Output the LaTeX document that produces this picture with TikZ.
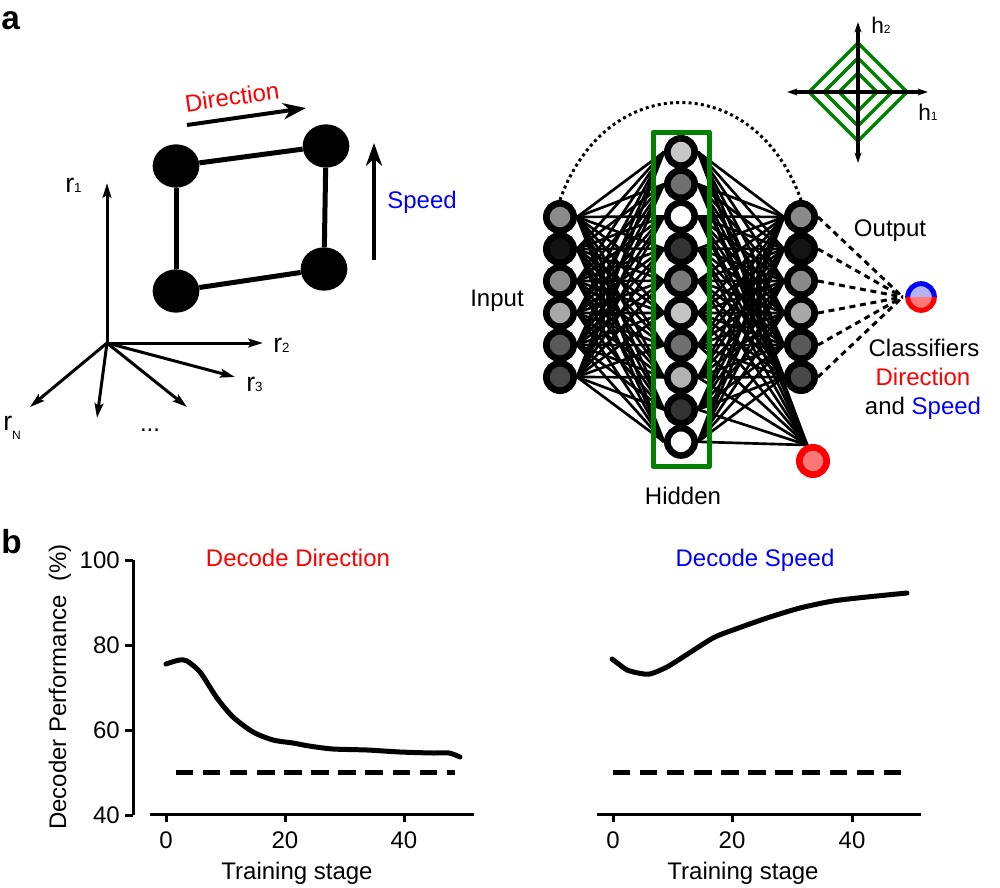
\documentclass[tikz,border=0pt]{standalone}
\usepackage{fontspec}
\setmainfont{Liberation Sans}
\usetikzlibrary{arrows.meta,shapes.geometric}
\definecolor{dgreen}{RGB}{0,128,0}
\definecolor{lblue}{RGB}{180,180,245}
\definecolor{lred}{RGB}{255,120,120}
\pgfdeclarelayer{bg}
\pgfsetlayers{bg,main}
\begin{document}
\begin{tikzpicture}[x=0.75pt,y=-0.75pt,
  every node/.style={font=\fontsize{18}{21}\selectfont, inner sep=0pt},
  neuron/.style={circle, draw=black, line width=5pt, minimum size=20.5pt, inner sep=0pt},
  conn/.style={line width=2pt},
  cdash/.style={line width=2.25pt, dash pattern=on 4.5pt off 3.5pt},
  cdot/.style={line width=2.25pt, dash pattern=on 2.25pt off 2.4pt},
  bigdot/.style={ellipse, fill=black, minimum width=35pt, minimum height=32.5pt, inner sep=0pt},
  edge/.style={line width=3.75pt},
  raxis/.style={line width=2.25pt, -{Stealth[length=11pt,width=6.5pt,inset=2pt]}},
  bigarrow/.style={line width=3pt, -{Stealth[length=17pt,width=12pt,inset=5pt]}},
  haxis/.style={line width=2.4pt, {Stealth[length=7.5pt,width=5pt,inset=1.5pt]}-{Stealth[length=7.5pt,width=5pt,inset=1.5pt]}},
  diam/.style={draw=dgreen, line width=2.4pt},
  axisline/.style={line width=2.25pt},
  curve/.style={line width=3.75pt, line cap=round, line join=round},
  chance/.style={line width=3.75pt, dash pattern=on 13pt off 7.3pt},
  lab/.style={font=\bfseries\fontsize{25}{28}\selectfont},
  rlab/.style={font=\fontsize{20}{22}\selectfont},
  hlab/.style={font=\fontsize{17}{19}\selectfont}
]
\useasboundingbox (0,0) rectangle (1000,888);

% panel labels
\node[lab, anchor=base west] (la) at (1,30) {a};
\node[lab, anchor=base west] (lb) at (1,553) {b};

% ---------- r axes ----------
\coordinate (O) at (107,343);
\coordinate (r1t) at (107,183);
\coordinate (r2t) at (263,343);
\coordinate (r3t) at (235,377);
\coordinate (r4t) at (187,407);
\coordinate (r5t) at (97,418);
\coordinate (rNt) at (30,407);
\foreach \t in {r1t,r2t,r3t,r4t,r5t,rNt} \draw[raxis] (O) -- (\t);
\node[rlab, anchor=base west] (r1) at (65,193) {r{\fontsize{10}{10}\selectfont 1}};
\node[rlab, anchor=base west] (r2) at (273,352) {r{\fontsize{10}{10}\selectfont 2}};
\node[rlab, anchor=base west] (r3) at (246,391) {r{\fontsize{10}{10}\selectfont 3}};
\node[rlab, anchor=base west] (rN) at (3,430) {r\raisebox{-7pt}{\fontsize{9}{9}\selectfont N}};
\node[anchor=base] (dots) at (150,431) {...};

% ---------- square ----------
\node[bigdot] (s1) at (176,166) {};
\node[bigdot] (s2) at (326,146) {};
\node[bigdot] (s3) at (176,291) {};
\node[bigdot] (s4) at (324,269) {};
\draw[edge] (s1) -- (s2);
\draw[edge] (s1) -- (s3);
\draw[edge] (s2) -- (s4);
\draw[edge] (s3) -- (s4);

\coordinate (dirA) at (187,125);
\coordinate (dirB) at (306,108);
\draw[bigarrow] (dirA) -- (dirB);
\node[red, rotate=8] (dirlab) at (232,97) {Direction};
\coordinate (spA) at (374,260);
\coordinate (spB) at (374,143);
\draw[bigarrow] (spA) -- (spB);
\node[blue, anchor=base] (splab) at (422,209) {Speed};

% ---------- network ----------
\node[draw=dgreen, line width=3.75pt, minimum width=42pt, minimum height=251pt, line join=round] (hbox) at (681,299.5) {};

\foreach \g [count=\i] in {46,92,46,34,65,72}
  \node[neuron, fill=black!\g] (i\i) at (560,{217+32*(\i-1)}) {};
\foreach \g [count=\i] in {22,56,0,80,52,23,56,30,80,0}
  \node[neuron, fill=black!\g] (h\i) at (681,{152+32.2*(\i-1)}) {};
\foreach \g [count=\i] in {46,92,46,34,65,72}
  \node[neuron, fill=black!\g] (o\i) at (801,{217+32*(\i-1)}) {};
\node[neuron, draw=red, fill=lred] (rd) at (813,461) {};

% classifier
\node[circle, minimum size=27pt] (cls) at (921,297) {};
\fill[lblue] (cls.center) ++(-10pt,0) arc[start angle=180, end angle=0, radius=10pt] -- cycle;
\fill[lred] (cls.center) ++(-10pt,0) arc[start angle=180, end angle=360, radius=10pt] -- cycle;
\draw[blue, line width=3.75pt] (cls.center) ++(-10pt,0) arc[start angle=180, end angle=0, radius=10pt];
\draw[red, line width=3.75pt] (cls.center) ++(-10pt,0) arc[start angle=180, end angle=360, radius=10pt];

\begin{pgfonlayer}{bg}
  \foreach \i in {1,...,6} \foreach \j in {1,...,10} {
    \draw[conn] (i\i.east) -- (h\j.west);
    \draw[conn] (h\j.east) -- (o\i.west);
  }
  \foreach \j in {1,...,10} \draw[conn] (h\j.east) -- (rd.110);
  \foreach \i in {1,...,6} \draw[cdash] (o\i.east) -- (cls.west);
\end{pgfonlayer}

\draw[cdot] (i1.north) .. controls (606,70) and (755,70) .. (o1.north);

\node[anchor=base] (inlab) at (497,306) {Input};
\node[anchor=base] (outlab) at (890,237) {Output};
\node[anchor=base] (hidlab) at (683,504) {Hidden};
\node[anchor=base] (cl1) at (924,356) {Classifiers};
\node[anchor=base, red] (cl2) at (923,385) {Direction};
\node[anchor=base] (cl3) at (923,414) {and \textcolor{blue}{Speed}};

% ---------- diamond ----------
\coordinate (dc) at (858,92);
\foreach \r in {49,34,19}
  \draw[diam] (858-\r,92) -- (858,92-\r) -- (858+\r,92) -- (858,92+\r) -- cycle;
\coordinate (dL) at (787,92);
\coordinate (dR) at (928,92);
\coordinate (dT) at (858,22);
\coordinate (dB) at (858,163);
\draw[haxis] (dL) -- (dR);
\draw[haxis] (dB) -- (dT);
\node[hlab, anchor=base west] (h2l) at (871,34) {h{\fontsize{9}{9}\selectfont 2}};
\node[hlab, anchor=base west] (h1l) at (918,121) {h{\fontsize{9}{9}\selectfont 1}};

% ---------- plot left ----------
\draw[axisline] (133,560) -- (133,815);
\foreach \v/\y in {100/560,80/645,60/730,40/815} {
  \draw[axisline] (125,\y) -- (133,\y);
  \node[anchor=east] at (120,\y) {\v};
}
\draw[axisline] (150,814) -- (474,814);
\foreach \v/\x in {0/166,20/285,40/404} {
  \draw[axisline] (\x,814) -- (\x,822);
  \node[anchor=base] at (\x,848) {\v};
}
\node[anchor=base] (xl1) at (297,879) {Training stage};
\node[rotate=90] (yl) at (60,687) {Decoder Performance\ \ (\%)};
\node[anchor=base, red] (t1) at (298,566) {Decode Direction};
\draw[chance] (176,772) -- (455,772);
\draw[curve] plot[smooth, tension=0.45] coordinates {
 (166,664) (172,662) (180,660) (187,661) (200,672) (217,698) (233,717) (253,732)
 (273,740) (293,743) (309,746) (333,749) (367,750) (400,752) (433,753) (449,753) (460,757)};

% ---------- plot right ----------
\draw[axisline] (597,814) -- (921,814);
\foreach \v/\x in {0/613,20/732,40/852} {
  \draw[axisline] (\x,814) -- (\x,822);
  \node[anchor=base] at (\x,848) {\v};
}
\node[anchor=base] (xl2) at (743,879) {Training stage};
\node[anchor=base, blue] (t2) at (755,566) {Decode Speed};
\draw[chance] (613,772) -- (902,772);
\draw[curve] plot[smooth, tension=0.45] coordinates {
 (612,659) (620,665) (627,670) (638,673) (650,674) (667,667) (683,657) (713,638)
 (733,630) (767,618) (800,608) (833,601) (867,597) (907,593)};
\end{tikzpicture}
\end{document}
